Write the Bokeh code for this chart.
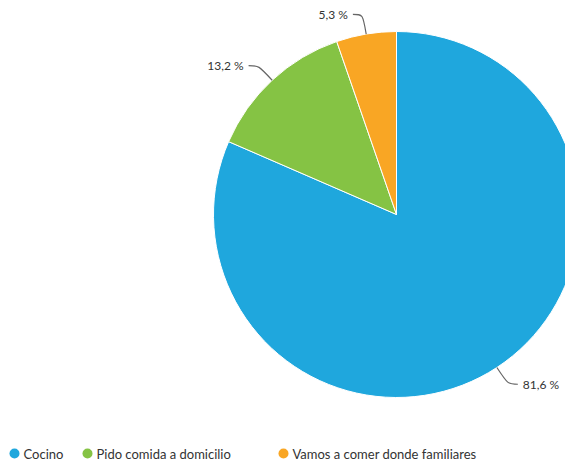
import math
from bokeh.plotting import figure
from bokeh.models import ColumnDataSource
from bokeh.core.properties import value
from bokeh.embed import file_html
from bokeh.resources import INLINE

categories = ["Cocino", "Pido comida a domicilio", "Vamos a comer donde familiares"]
percentages = [81.6, 13.2, 5.3]
labels = ["81,6 %", "13,2 %", "5,3 %"]
colors = ["#1fa7dd", "#85c344", "#f9a624"]

W, H = 565, 462
p = figure(width=W, height=H, x_range=(0, W), y_range=(0, H),
           output_backend="svg", toolbar_location=None, min_border=0)
p.axis.visible = False
p.grid.visible = False
p.outline_line_color = None
p.background_fill_color = "white"

cx, cy, r = 396, H - 214, 183
total = sum(percentages)
starts, ends, mids = [], [], []
acc = 0.0
for v in percentages:
    a0 = math.pi / 2 - 2 * math.pi * acc / total
    acc += v
    a1 = math.pi / 2 - 2 * math.pi * acc / total
    starts.append(a0)
    ends.append(a1)
    mids.append((a0 + a1) / 2)

src = ColumnDataSource(dict(start=starts, end=ends, color=colors, cat=categories))
p.wedge(x=cx, y=cy, radius=r, start_angle="start", end_angle="end",
        direction="clock", fill_color="color", line_color="white", line_width=1,
        source=src)

# data labels with connectors
for m, lab in zip(mids, labels):
    px, py = cx + r * math.cos(m), cy + r * math.sin(m)
    qx, qy = cx + (r + 20) * math.cos(m), cy + (r + 20) * math.sin(m)
    right = math.cos(m) > 0
    ex = qx + 10 if right else qx - 10
    p.bezier(x0=[px], y0=[py], x1=[ex], y1=[qy], cx0=[qx], cy0=[qy], cx1=[qx], cy1=[qy],
             line_color="#666666", line_width=1.2)
    p.text(x=[ex + (5 if right else -5)], y=[qy], text=[lab],
           text_align="left" if right else "right", text_baseline="middle",
           text_font=value("Lato"), text_font_size="12px", text_color="#333333")

# legend
leg_x = [14, 87, 283]
leg_y = H - 453
p.scatter(x=leg_x, y=[leg_y] * 3, size=10, marker="circle", fill_color=colors, line_color=None)
p.text(x=[x + 9 for x in leg_x], y=[leg_y] * 3, text=categories,
       text_align="left", text_baseline="middle",
       text_font=value("Lato"), text_font_size="13px", text_color="#333333")

open("out.html", "w").write(file_html(p, INLINE))
